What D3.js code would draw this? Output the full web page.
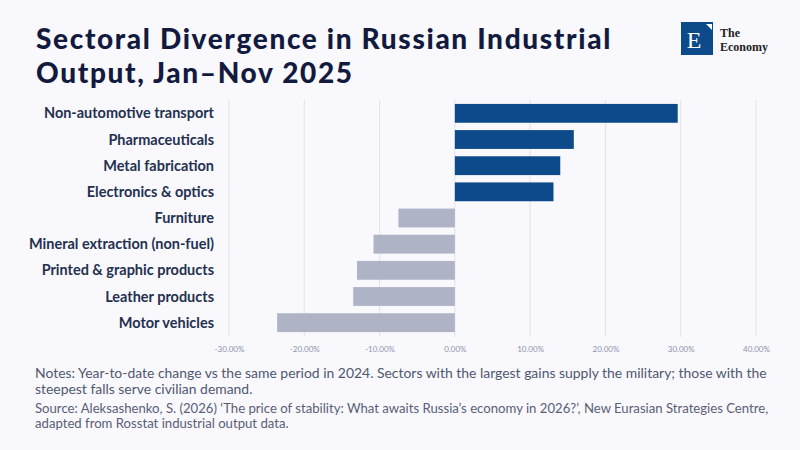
<!doctype html>
<html>
<head>
<meta charset="utf-8">
<title>Sectoral Divergence</title>
<script src="https://cdn.jsdelivr.net/npm/d3@7"></script>
<style>
  html, body { margin: 0; padding: 0; background: #f8f8fd; }
  svg { display: block; }
</style>
</head>
<body>
<script>
// data (YTD % change vs 2024)
const sectors = [
  "Non-automotive transport",
  "Pharmaceuticals",
  "Metal fabrication",
  "Electronics & optics",
  "Furniture",
  "Mineral extraction (non-fuel)",
  "Printed & graphic products",
  "Leather products",
  "Motor vehicles"
];
const changes = [29.6, 15.8, 14.0, 13.1, -7.5, -10.8, -13.0, -13.5, -23.6];
const tickValues = [-30, -20, -10, 0, 10, 20, 30, 40];

const titleLines = ["Sectoral Divergence in Russian Industrial", "Output, Jan\u2013Nov 2025"];
const noteLines = [
  "Notes: Year-to-date change vs the same period in 2024. Sectors with the largest gains supply the military; those with the",
  "steepest falls serve civilian demand."
];
const sourceLines = [
  "Source: Aleksashenko, S. (2026) \u2018The price of stability: What awaits Russia\u2019s economy in 2026?\u2019, New Eurasian Strategies Centre,",
  "adapted from Rosstat industrial output data."
];

const w = 800, h = 450;
const font = "Lato, 'Noto Sans', sans-serif";
const serif = "'Liberation Serif', 'DejaVu Serif', serif";

const svg = d3.select("body").append("svg")
  .attr("width", w)
  .attr("height", h);

svg.append("rect").attr("width", w).attr("height", h).attr("fill", "#f8f8fd");

// font size that makes a text span the reference width
function fitSize(sel, target) {
  const len = sel.node().getComputedTextLength();
  const fs = parseFloat(sel.attr("font-size"));
  return +(fs * target / len).toFixed(2);
}

// writes a block of lines, sized so the first line matches the target width
function textBlock(lines, x0, y0, lh, opts, target) {
  const g = svg.append("g");
  const ts = g.selectAll("text")
    .data(lines)
    .join("text")
    .attr("x", x0)
    .attr("y", (d, i) => y0 + i * lh)
    .attr("font-family", font)
    .attr("font-weight", opts.weight || 400)
    .attr("font-size", opts.size)
    .attr("fill", opts.fill)
    .text(d => d);
  if (target) ts.attr("font-size", fitSize(d3.select(ts.nodes()[0]), target));
  return ts;
}

// title: keep the cap height, widen with letter spacing instead
const title = textBlock(titleLines, 36, 49, 34, {weight: 900, size: 28, fill: "#121a3d"});
const tl = title.nodes()[0];
const spacing = (576 - tl.getComputedTextLength()) / titleLines[0].length;
title.attr("letter-spacing", Math.max(0, spacing).toFixed(2));

// logo
const logo = svg.append("g");
logo.append("rect")
  .attr("x", 681).attr("y", 22)
  .attr("width", 32).attr("height", 33)
  .attr("fill", "#0d4a8a");
logo.append("path")
  .attr("d", "M706,24 L712,24 L712,30 Z")
  .attr("fill", "#fff");
logo.append("text")
  .attr("x", 694).attr("y", 48)
  .attr("text-anchor", "middle")
  .attr("font-family", serif)
  .attr("font-size", 24)
  .attr("fill", "#fff")
  .text("E");
logo.selectAll("text.word")
  .data(["The", "Economy"])
  .join("text")
  .attr("class", "word")
  .attr("x", 720)
  .attr("y", (d, i) => 37 + i * 14)
  .attr("font-family", serif)
  .attr("font-weight", 700)
  .attr("font-size", 12)
  .attr("fill", "#222")
  .text(d => d);

// scales
const x = d3.scaleLinear()
  .domain([-30, 40])
  .range([229, 756]);

const y = d3.scaleBand()
  .domain(sectors)
  .range([100, 336])
  .paddingInner(0.28)
  .paddingOuter(0.15);

// gridlines
svg.append("g")
  .selectAll("line")
  .data(tickValues)
  .join("line")
  .attr("x1", d => x(d))
  .attr("x2", d => x(d))
  .attr("y1", 100)
  .attr("y2", 337)
  .attr("stroke", "#e1e1e9")
  .attr("stroke-width", 1);

// bars
svg.append("g")
  .selectAll("rect")
  .data(sectors)
  .join("rect")
  .attr("x", (d, i) => x(Math.min(0, changes[i])))
  .attr("y", d => y(d))
  .attr("width", (d, i) => Math.abs(x(changes[i]) - x(0)))
  .attr("height", y.bandwidth())
  .attr("fill", (d, i) => changes[i] >= 0 ? "#0d4a8a" : "#aeb4c6");

// category labels
const labels = svg.append("g")
  .selectAll("text")
  .data(sectors)
  .join("text")
  .attr("x", 214)
  .attr("y", d => y(d) + y.bandwidth() / 2)
  .attr("dy", "0.35em")
  .attr("text-anchor", "end")
  .attr("font-family", font)
  .attr("font-weight", 700)
  .attr("font-size", 13)
  .attr("fill", "#24304f")
  .text(d => d);
labels.attr("font-size", Math.min(14.5, fitSize(d3.select(labels.nodes()[0]), 170)));

// x axis
const xAxis = svg.append("g")
  .attr("transform", "translate(0,343)")
  .call(d3.axisBottom(x)
    .tickValues(tickValues)
    .tickSize(0)
    .tickFormat(d => d.toFixed(2) + "%"));
xAxis.select(".domain").remove();
xAxis.selectAll("text")
  .attr("font-family", font)
  .attr("font-size", 8)
  .attr("fill", "#8c94ab");

// notes + source
textBlock(noteLines, 35, 378, 16, {size: 13, fill: "#50586e"}, 732);
textBlock(sourceLines, 35, 413, 15, {size: 12, fill: "#5a6075"}, 734);
</script>
</body>
</html>
